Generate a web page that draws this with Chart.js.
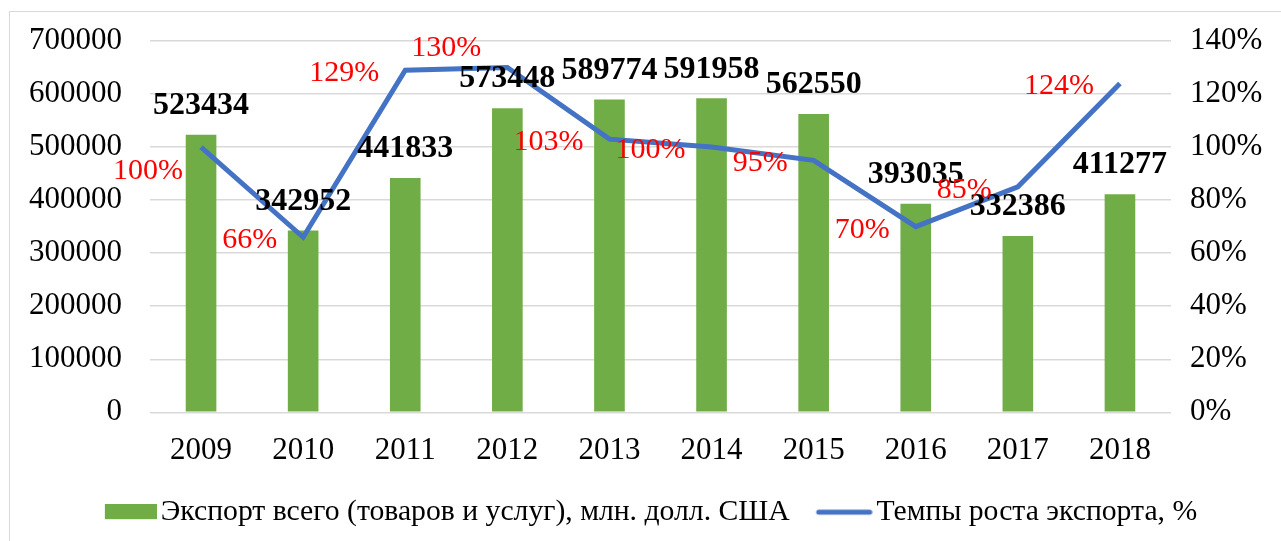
<!DOCTYPE html>
<html>
<head>
<meta charset="utf-8">
<script src="https://cdn.jsdelivr.net/npm/chart.js@4.4.1/dist/chart.umd.min.js"></script>
<style>
  html, body { margin: 0; padding: 0; background: #fff; overflow: hidden; }
  #frame { position: absolute; left: 9px; top: 11px; width: 1300px; height: 560px;
           border-left: 1px solid #d9d9d9; border-top: 1px solid #d9d9d9; }
  #chart { position: absolute; left: 0; top: 0; }
</style>
</head>
<body>
<div id="frame"><canvas id="chart" width="1271" height="529"></canvas></div>
<script>
// данные
var years = ["2009", "2010", "2011", "2012", "2013", "2014", "2015", "2016", "2017", "2018"];
var exportTotal = [523434, 342952, 441833, 573448, 589774, 591958, 562550, 393035, 332386, 411277];
var growthRate = [100, 66, 129, 130, 103, 100, 95, 70, 85, 124];
var leftTicks = [0, 100000, 200000, 300000, 400000, 500000, 600000, 700000];
var rightTicks = [0, 20, 40, 60, 80, 100, 120, 140];

var serif = "'Liberation Serif', 'Times New Roman', serif";
var green = "#70AD47";
var blue = "#4472C4";

// маркеры легенды: картинка шире рамки, чтобы текст стоял ближе к маркеру
function legendMarker(kind, color) {
    var c = document.createElement("canvas");
    c.width = 74; c.height = 16;
    var g = c.getContext("2d");
    if (kind === "rect") {
        g.fillStyle = color;
        g.fillRect(22, 0, 52, 15);
    } else {
        g.strokeStyle = color;
        g.lineWidth = 5;
        g.lineCap = "round";
        g.beginPath();
        g.moveTo(20, 8);
        g.lineTo(71, 8);
        g.stroke();
    }
    return c;
}

// подписи значений
var valueLabels = {
    id: "valueLabels",
    afterDatasetsDraw: function (chart) {
        var ctx = chart.ctx;
        ctx.save();
        var bars = chart.getDatasetMeta(0).data;
        ctx.font = "bold 32px " + serif;
        ctx.fillStyle = "#000";
        ctx.textAlign = "center";
        ctx.textBaseline = "middle";
        bars.forEach(function (bar, i) {
            ctx.fillText(String(exportTotal[i]), bar.x, bar.y - 29);
        });
        var pts = chart.getDatasetMeta(1).data;
        ctx.font = "30px " + serif;
        ctx.fillStyle = "#FF0000";
        ctx.textAlign = "right";
        pts.forEach(function (pt, i) {
            var dx = -26, dy = 3;
            if (i === 0) { dx = -18; dy = 24; }  // 2009 ниже точки
            if (i === 3) { dy = -19; }           // 2012 выше точки
            ctx.fillText(growthRate[i] + "%", pt.x + dx, pt.y + dy);
        });
        ctx.restore();
    }
};

function noVerticalPadding(scale) {
    scale.paddingTop = 0;
    scale.paddingBottom = 0;
}

var ctx = document.getElementById("chart").getContext("2d");
new Chart(ctx, {
    type: "bar",
    data: {
        labels: years,
        datasets: [{
            type: "bar",
            label: "Экспорт всего (товаров и услуг), млн. долл. США",
            data: exportTotal,
            backgroundColor: green,
            yAxisID: "y",
            barPercentage: 0.6,
            categoryPercentage: 0.5,
            order: 2
        }, {
            type: "line",
            label: "Темпы роста экспорта, %",
            data: growthRate,
            borderColor: blue,
            borderWidth: 5,
            pointRadius: 0,
            tension: 0,
            yAxisID: "y1",
            order: 1
        }]
    },
    options: {
        responsive: false,
        animation: false,
        layout: { padding: { top: 29, bottom: 4 } },
        plugins: {
            tooltip: { enabled: false },
            legend: {
                position: "bottom",
                labels: {
                    font: { family: serif, size: 29.7 },
                    color: "#000",
                    usePointStyle: true,
                    pointStyleWidth: 52,
                    boxHeight: 15,
                    padding: 20,
                    generateLabels: function (chart) {
                        return [{
                            text: chart.data.datasets[0].label,
                            fillStyle: green, strokeStyle: green, lineWidth: 0,
                            pointStyle: legendMarker("rect", green), datasetIndex: 0
                        }, {
                            text: chart.data.datasets[1].label,
                            fillStyle: blue, strokeStyle: blue, lineWidth: 0,
                            pointStyle: legendMarker("line", blue), datasetIndex: 1
                        }];
                    }
                }
            }
        },
        scales: {
            x: {
                grid: { display: false, drawTicks: false },
                border: { display: false },
                afterFit: function (scale) { scale.height = 65; },
                ticks: { font: { family: serif, size: 31 }, color: "#000", padding: 20 }
            },
            y: {
                position: "left",
                min: 0, max: 700000,
                afterBuildTicks: function (scale) {
                    scale.ticks = leftTicks.map(function (v) { return { value: v }; });
                },
                afterFit: function (scale) { scale.width = 140; noVerticalPadding(scale); },
                grid: { color: "#d9d9d9", lineWidth: 1.5, drawTicks: false },
                border: { display: false },
                ticks: {
                    font: { family: serif, size: 31 }, color: "#000", padding: 28,
                    callback: function (v) { return String(v); }
                }
            },
            y1: {
                position: "right",
                min: 0, max: 140,
                afterBuildTicks: function (scale) {
                    scale.ticks = rightTicks.map(function (v) { return { value: v }; });
                },
                afterFit: function (scale) { scale.width = 110; noVerticalPadding(scale); },
                grid: { display: false, drawTicks: false },
                border: { display: false },
                ticks: {
                    font: { family: serif, size: 31 }, color: "#000", padding: 19,
                    callback: function (v) { return v + "%"; }
                }
            }
        }
    },
    plugins: [valueLabels]
});
</script>
</body>
</html>
